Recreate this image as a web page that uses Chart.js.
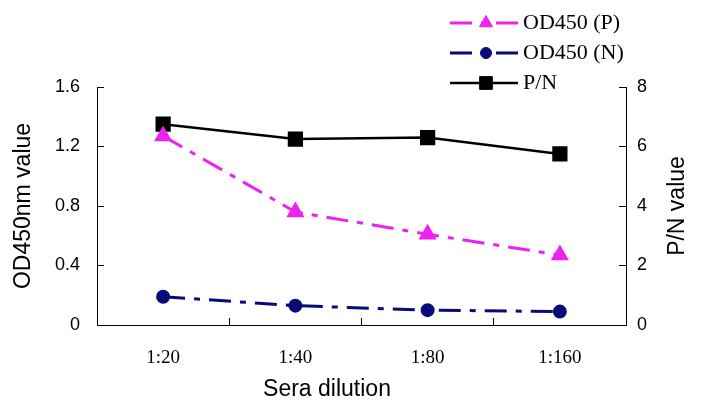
<!DOCTYPE html>
<html>
<head>
<meta charset="utf-8">
<script src="https://cdn.jsdelivr.net/npm/chart.js@4.4.1/dist/chart.umd.min.js"></script>
<style>
  body { margin: 0; background: #fff; }
  canvas { display: block; }
</style>
</head>
<body>
<canvas id="chart" width="706" height="419"></canvas>
<script>
// data
const dilutions = ['1:20', '1:40', '1:80', '1:160'];
const odPositive = [1.27, 0.76, 0.61, 0.47];
const odNegative = [0.19, 0.13, 0.10, 0.09];
const pnRatio = [6.75, 6.25, 6.3, 5.75];
const seriesNames = ['OD450 (P)', 'OD450 (N)', 'P/N'];
const xTitle = 'Sera dilution';
const rightTitle = 'P/N value';

const sansFont = "'Liberation Sans', Arial, sans-serif";
const serifFont = "'Liberation Serif', 'Times New Roman', serif";

// legend drawn as line + marker samples, like the original figure
const lineLegend = {
  id: 'lineLegend',
  afterDraw(chart) {
    const ctx = chart.ctx;
    chart.data.datasets.forEach((ds, i) => {
      const y = 23 + i * 30;
      ctx.save();
      ctx.strokeStyle = ds.borderColor;
      ctx.lineWidth = ds.borderWidth;
      ctx.setLineDash(ds.borderDash || []);
      ctx.beginPath();
      ctx.moveTo(450, y);
      ctx.lineTo(518, y);
      ctx.stroke();
      ctx.setLineDash([]);
      ctx.fillStyle = ds.pointBackgroundColor;
      ctx.strokeStyle = ds.pointBorderColor;
      ctx.lineWidth = 1;
      Chart.helpers.drawPoint(ctx, {
        pointStyle: ds.pointStyle,
        radius: ds.pointRadius,
        borderWidth: 1,
        rotation: 0
      }, 486, y);
      ctx.fillStyle = '#000';
      ctx.font = '22px ' + serifFont;
      ctx.textBaseline = 'middle';
      ctx.textAlign = 'left';
      ctx.fillText(ds.label, 523, y);
      ctx.restore();
    });
  }
};

// x title sits left of centre and the right title reads bottom-to-top in the original
const axisTitles = {
  id: 'axisTitles',
  afterDraw(chart) {
    const ctx = chart.ctx;
    const area = chart.chartArea;
    ctx.save();
    ctx.fillStyle = '#000';
    ctx.font = '23px ' + sansFont;
    ctx.textAlign = 'center';
    ctx.textBaseline = 'middle';
    ctx.fillText(xTitle, 327, 390);
    ctx.translate(678, (area.top + area.bottom) / 2);
    ctx.rotate(-Math.PI / 2);
    ctx.fillText(rightTitle, 0, 0);
    ctx.restore();
  }
};

const ctx = document.getElementById('chart').getContext('2d');
new Chart(ctx, {
  type: 'line',
  data: {
    labels: dilutions,
    datasets: [
      {
        label: seriesNames[0],
        data: odPositive,
        yAxisID: 'y',
        borderColor: '#ee22ee',
        backgroundColor: '#ee22ee',
        pointBackgroundColor: '#ee22ee',
        pointBorderColor: '#ee22ee',
        borderWidth: 3,
        borderDash: [22, 9, 6, 9],
        pointStyle: 'triangle',
        pointRadius: 7.5,
        tension: 0
      },
      {
        label: seriesNames[1],
        data: odNegative,
        yAxisID: 'y',
        borderColor: '#0a0a78',
        backgroundColor: '#0a0a78',
        pointBackgroundColor: '#0a0a78',
        pointBorderColor: '#0a0a78',
        borderWidth: 3,
        borderDash: [22, 9, 6, 9],
        pointStyle: 'circle',
        pointRadius: 5.5,
        tension: 0
      },
      {
        label: seriesNames[2],
        data: pnRatio,
        yAxisID: 'y1',
        borderColor: '#000',
        backgroundColor: '#000',
        pointBackgroundColor: '#000',
        pointBorderColor: '#000',
        borderWidth: 2.5,
        pointStyle: 'rect',
        pointRadius: 9,
        tension: 0
      }
    ]
  },
  options: {
    responsive: false,
    animation: false,
    devicePixelRatio: 1,
    layout: { padding: { top: 87, left: 0, right: 0, bottom: 0 } },
    plugins: {
      legend: { display: false },
      tooltip: { enabled: false }
    },
    scales: {
      x: {
        offset: true,
        ticks: { color: '#000', font: { family: serifFont, size: 19 }, padding: 29 },
        grid: { offset: true, drawOnChartArea: false, tickLength: -7, color: '#000' },
        border: { display: true, color: '#000', width: 1 },
        afterFit(s) { s.height = 94; }
      },
      y: {
        position: 'left',
        min: 0, max: 1.6,
        ticks: { stepSize: 0.4, color: '#000', font: { family: sansFont, size: 18 }, padding: 24 },
        grid: { drawOnChartArea: false, tickLength: -7, color: '#000' },
        border: { display: true, color: '#000', width: 1 },
        title: {
          display: true, text: 'OD450nm value', color: '#000',
          font: { family: sansFont, size: 23 },
          padding: { top: 10, bottom: 0 }
        },
        afterFit(s) { s.width = 97; }
      },
      y1: {
        position: 'right',
        min: 0, max: 8,
        ticks: { stepSize: 2, color: '#000', font: { family: sansFont, size: 18 }, padding: 18 },
        grid: { drawOnChartArea: false, tickLength: -7, color: '#000' },
        border: { display: true, color: '#000', width: 1 },
        afterFit(s) { s.width = 80; }
      }
    }
  },
  plugins: [lineLegend, axisTitles]
});
</script>
</body>
</html>
